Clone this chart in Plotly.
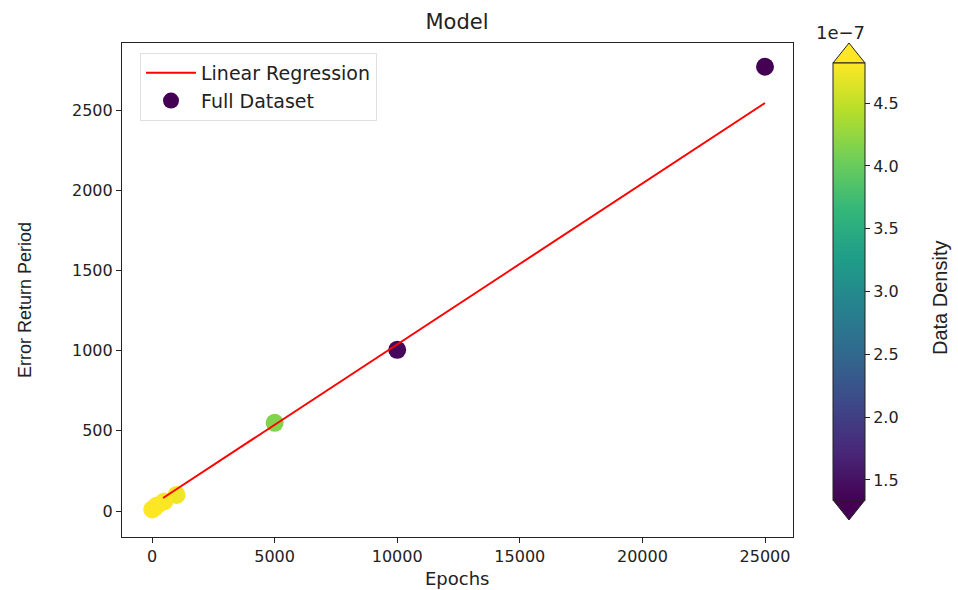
import plotly.graph_objects as go

# ---- data ----
epochs = [25000, 10000, 5000, 1000, 500, 200, 100, 10]
error_return = [2770, 1005, 550, 100, 60, 35, 20, 10]
density = [1.30e-7, 1.40e-7, 4.15e-7, 4.75e-7, 4.80e-7, 4.85e-7, 4.85e-7, 4.85e-7]

reg_x = [450, 25000]
reg_y = [81, 2544]

cmin, cmax = 1.34e-7, 4.82e-7
cbar_ticks = [1.5e-7, 2.0e-7, 2.5e-7, 3.0e-7, 3.5e-7, 4.0e-7, 4.5e-7]
cbar_text = ["1.5", "2.0", "2.5", "3.0", "3.5", "4.0", "4.5"]
x_ticks = [0, 5000, 10000, 15000, 20000, 25000]
x_text = ["0", "5000", "10000", "15000", "20000", "25000"]
y_ticks = [0, 500, 1000, 1500, 2000, 2500]
y_text = ["0", "500", "1000", "1500", "2000", "2500"]

# ---- layout geometry (pixels) ----
W, H = 958, 590
L, R, T, B = 122, 793, 43, 537
pw, ph = R - L, B - T

def px_x(p):
    return (p - L) / pw

def px_y(p):
    return (B - p) / ph

cb_left, cb_right = 833, 865
cb_top, cb_bot = 63, 500
TXT = "#222"

fig = go.Figure()

fig.add_trace(go.Scatter(
    x=epochs, y=error_return, mode="markers", name="Full Dataset",
    legendrank=2,
    marker=dict(size=18, color=density, colorscale="Viridis", cmin=cmin, cmax=cmax,
                line=dict(width=0),
                colorbar=dict(
                    x=px_x(cb_left), xanchor="left", xpad=0, ypad=0,
                    y=px_y((cb_top + cb_bot) / 2), yanchor="middle",
                    len=cb_bot - cb_top, lenmode="pixels",
                    thickness=cb_right - cb_left, thicknessmode="pixels",
                    outlinewidth=1, outlinecolor=TXT,
                    tickvals=cbar_ticks, ticktext=cbar_text,
                    ticks="outside", ticklen=5, tickcolor=TXT,
                    tickfont=dict(family="DejaVu Sans", size=16, color=TXT),
                )),
))

fig.add_trace(go.Scatter(
    x=reg_x, y=reg_y, mode="lines", name="Linear Regression",
    legendrank=1, line=dict(color="red", width=2),
))

# colorbar extension triangles
fig.add_shape(type="path", xref="paper", yref="paper",
              path=f"M {px_x(cb_left)} {px_y(cb_top)} L {px_x((cb_left+cb_right)/2)} {px_y(cb_top-20)} L {px_x(cb_right)} {px_y(cb_top)} Z",
              fillcolor="#fde725", line=dict(color=TXT, width=1), layer="above")
fig.add_shape(type="path", xref="paper", yref="paper",
              path=f"M {px_x(cb_left)} {px_y(cb_bot)} L {px_x((cb_left+cb_right)/2)} {px_y(cb_bot+20)} L {px_x(cb_right)} {px_y(cb_bot)} Z",
              fillcolor="#440154", line=dict(color=TXT, width=1), layer="above")

# texts
fig.add_annotation(text="1e\u22127", xref="paper", yref="paper",
                   x=px_x(840), y=px_y(32), xanchor="center", yanchor="middle",
                   showarrow=False, font=dict(family="DejaVu Sans", size=18, color=TXT))
fig.add_annotation(text="Data Density", xref="paper", yref="paper",
                   x=px_x(940), y=px_y(297), xanchor="center", yanchor="middle",
                   textangle=-90, showarrow=False,
                   font=dict(family="Liberation Sans", size=20, color=TXT))
fig.add_annotation(text="Error Return Period", xref="paper", yref="paper",
                   x=px_x(25), y=px_y(300), xanchor="center", yanchor="middle",
                   textangle=-90, showarrow=False,
                   font=dict(family="Liberation Sans", size=18, color=TXT))
fig.add_annotation(text="Epochs", xref="paper", yref="paper",
                   x=px_x(457), y=px_y(578), xanchor="center", yanchor="middle",
                   showarrow=False, font=dict(family="DejaVu Sans", size=18, color=TXT))

axis_common = dict(showgrid=False, zeroline=False, showline=True, linecolor=TXT,
                   linewidth=1.2, mirror=True, ticks="outside", ticklen=5, tickcolor=TXT,
                   tickfont=dict(family="DejaVu Sans", size=16, color=TXT))

fig.update_layout(
    width=W, height=H,
    margin=dict(l=L, r=W - R, t=T, b=H - B),
    paper_bgcolor="white", plot_bgcolor="white",
    title=dict(text="Model", x=px_x(457), xref="paper", xanchor="center",
               y=1 - 22 / H, yanchor="middle",
               font=dict(family="DejaVu Sans", size=21, color=TXT)),
    xaxis=dict(range=[-1224, 26142], tickvals=x_ticks, ticktext=x_text, **axis_common),
    yaxis=dict(range=[-162, 2918], tickvals=y_ticks, ticktext=y_text, **axis_common),
    legend=dict(x=px_x(140), y=px_y(53), xanchor="left", yanchor="top",
                bgcolor="rgba(255,255,255,0.8)", bordercolor="#e0e0e0", borderwidth=1,
                font=dict(family="DejaVu Sans", size=19, color=TXT),
                itemwidth=50, tracegroupgap=0),
    showlegend=True,
)

fig.write_html("out.html")
